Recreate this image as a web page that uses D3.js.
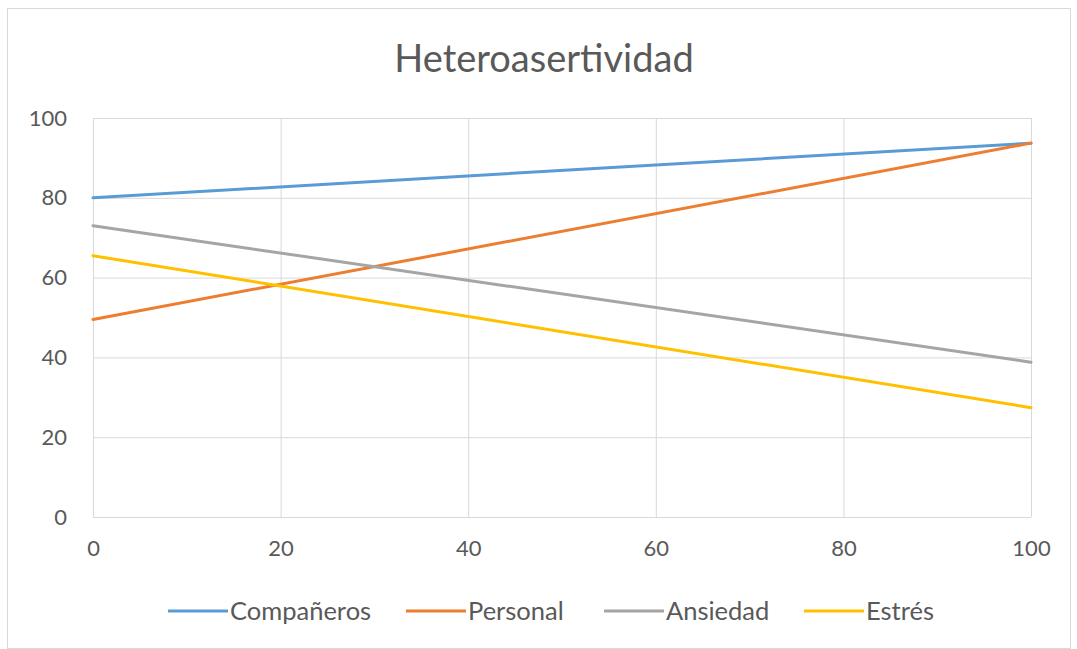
<!DOCTYPE html>
<html>
<head>
<meta charset="utf-8">
<script src="https://cdn.jsdelivr.net/npm/d3@7/dist/d3.min.js"></script>
<style>
  html, body { margin: 0; padding: 0; background: #fff; }
  svg { display: block; }
</style>
</head>
<body>
<svg id="chart" width="1077" height="649"></svg>
<script>
// Series: each one is a straight trend from x = 0 to x = 100
const xValues = [0, 100];
const companeros = [80, 93.7];
const personal = [49.5, 93.7];
const ansiedad = [73, 38.8];
const estres = [65.5, 27.4];

const seriesNames = ["Compañeros", "Personal", "Ansiedad", "Estrés"];
const seriesColors = ["#5B9BD5", "#ED7D31", "#A5A5A5", "#FFC000"];
const xTicks = [0, 20, 40, 60, 80, 100];
const yTicks = [0, 20, 40, 60, 80, 100];

const series = [companeros, personal, ansiedad, estres].map((vals, i) => ({
  name: seriesNames[i],
  color: seriesColors[i],
  points: vals.map((v, j) => ({ x: xValues[j], y: v }))
}));

const svg = d3.select("#chart");
const font = "Lato, 'Open Sans', sans-serif";
const textColor = "#595959";

// chart frame
svg.append("rect")
  .attr("x", 7.5).attr("y", 8.5)
  .attr("width", 1063).attr("height", 640)
  .attr("fill", "#fff").attr("stroke", "#d9d9d9").attr("stroke-width", 1);

const plot = { left: 93, right: 1031, top: 118, bottom: 517 };
const x = d3.scaleLinear().domain([0, 100]).range([plot.left, plot.right]);
const y = d3.scaleLinear().domain([0, 100]).range([plot.bottom, plot.top]);

// title
svg.append("text")
  .attr("x", 544).attr("y", 72)
  .attr("text-anchor", "middle")
  .attr("font-family", font).attr("font-size", 38)
  .attr("fill", textColor)
  .text("Heteroasertividad");

// gridlines via axes
const gridY = svg.append("g")
  .attr("transform", `translate(${plot.left},0)`)
  .call(d3.axisLeft(y).tickValues(yTicks).tickSize(-(plot.right - plot.left)).tickFormat(""));
gridY.select(".domain").remove();
gridY.selectAll("line").attr("stroke", "#d9d9d9").attr("stroke-width", 1);

const gridX = svg.append("g")
  .attr("transform", `translate(0,${plot.bottom})`)
  .call(d3.axisBottom(x).tickValues(xTicks).tickSize(-(plot.bottom - plot.top)).tickFormat(""));
gridX.select(".domain").remove();
gridX.selectAll("line").attr("stroke", "#d9d9d9").attr("stroke-width", 1);

// tick labels
const yAxis = svg.append("g")
  .attr("transform", `translate(${plot.left},0)`)
  .call(d3.axisLeft(y).tickValues(yTicks).tickSize(0).tickPadding(26));
yAxis.select(".domain").remove();
yAxis.selectAll("text")
  .attr("font-family", font).attr("font-size", 22).attr("fill", textColor);

const xAxis = svg.append("g")
  .attr("transform", `translate(0,${plot.bottom})`)
  .call(d3.axisBottom(x).tickValues(xTicks).tickSize(0).tickPadding(23));
xAxis.select(".domain").remove();
xAxis.selectAll("text")
  .attr("font-family", font).attr("font-size", 22).attr("fill", textColor);

// lines
const line = d3.line().x(d => x(d.x)).y(d => y(d.y));
svg.append("g").selectAll("path")
  .data(series)
  .join("path")
  .attr("d", d => line(d.points))
  .attr("fill", "none")
  .attr("stroke", d => d.color)
  .attr("stroke-width", 3)
  .attr("stroke-linecap", "round");

// legend
const legendX = [168, 406, 604, 804];
const legend = svg.append("g").selectAll("g")
  .data(series)
  .join("g")
  .attr("transform", (d, i) => `translate(${legendX[i]},611)`);
legend.append("line")
  .attr("x1", 0).attr("x2", 60).attr("y1", 0).attr("y2", 0)
  .attr("stroke", d => d.color).attr("stroke-width", 3);
legend.append("text")
  .attr("x", 62).attr("y", 0).attr("dy", "0.35em")
  .attr("font-family", font).attr("font-size", 25.5).attr("fill", textColor)
  .text(d => d.name);
</script>
</body>
</html>
